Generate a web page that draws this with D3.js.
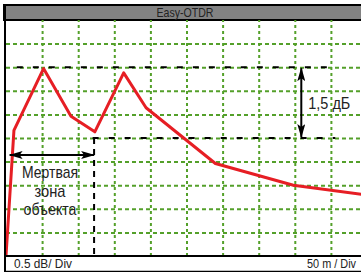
<!DOCTYPE html>
<html>
<head>
<meta charset="utf-8">
<script src="https://cdn.jsdelivr.net/npm/d3@7"></script>
<style>
body { margin: 0; background: #fff; }
svg { display: block; }
</style>
</head>
<body>
<div id="chart"></div>
<script>
// trace: distance (m) vs level (dB)
var distM = [0, 11, 52, 90, 123, 163, 194, 290, 398, 500];
var lossDb = [0, 2.66, 3.97, 2.96, 2.63, 3.88, 3.14, 1.96, 1.50, 1.29];

var xTicks = [50, 100, 150, 200, 250, 300, 350, 400, 450];
var yTicks = [0.5, 1, 1.5, 2, 2.5, 3, 3.5, 4, 4.5];

var titleText = "Easy-OTDR";
var yScaleText = "0.5 dB/ Div";
var xScaleText = "50 m / Div";
var deadZoneText = ["Мертвая", "зона", "объекта"];
var stepText = "1,5 дБ";

// annotation values
var levelHigh = 4, levelLow = 2.5;
var markStart = 15, markEnd = 456, lowStart = 120;
var deadStart = 5, deadEnd = 122, deadLevel = 2.14;
var stepAt = 409;

var width = 361, height = 272;
var green = "#54a02a", red = "#e61e24";
var font = "'Liberation Sans', Arial, sans-serif";

var svg = d3.select("#chart").append("svg")
	.attr("width", width)
	.attr("height", height);

var x = d3.scaleLinear().domain([0, 500]).range([6, 367]);
var y = d3.scaleLinear().domain([0, 5]).range([256, 20]);

// squeeze text to the narrow look of the original
function narrowText(sel, len) {
	sel.attr("textLength", len).attr("lengthAdjust", "spacingAndGlyphs");
}

// title bar
svg.append("rect")
	.attr("x", 4).attr("y", 5)
	.attr("width", width).attr("height", 15)
	.attr("fill", "#828282")
	.attr("stroke", "#000").attr("stroke-width", 2);
svg.append("text")
	.attr("x", 185).attr("y", 17)
	.attr("text-anchor", "middle")
	.attr("font-family", font)
	.attr("font-size", 13)
	.attr("fill", "#222")
	.text(titleText)
	.call(narrowText, 57);

// grid
var gx = svg.append("g")
	.attr("transform", "translate(0," + y(0) + ")")
	.call(d3.axisBottom(x).tickValues(xTicks).tickSize(-(y(0) - y(5))).tickFormat(""));
var gy = svg.append("g")
	.attr("transform", "translate(" + x(0) + ",0)")
	.call(d3.axisLeft(y).tickValues(yTicks).tickSize(-(x(500) - x(0))).tickFormat(""));
gx.select(".domain").remove();
gy.select(".domain").remove();
gx.selectAll(".tick line")
	.attr("stroke", green).attr("stroke-width", 2)
	.attr("stroke-dasharray", "3,3");
gy.selectAll(".tick line")
	.attr("stroke", green).attr("stroke-width", 2)
	.attr("stroke-dasharray", "4,3");

// black dashed markers
var dash = "6,10";
svg.append("line")
	.attr("x1", x(markStart)).attr("x2", x(markEnd))
	.attr("y1", y(levelHigh)).attr("y2", y(levelHigh))
	.attr("stroke", "#000").attr("stroke-width", 2)
	.attr("stroke-dasharray", dash);
svg.append("line")
	.attr("x1", x(lowStart)).attr("x2", x(markEnd))
	.attr("y1", y(levelLow)).attr("y2", y(levelLow))
	.attr("stroke", "#000").attr("stroke-width", 2)
	.attr("stroke-dasharray", dash);
svg.append("line")
	.attr("x1", x(deadEnd)).attr("x2", x(deadEnd))
	.attr("y1", y(levelLow)).attr("y2", y(0))
	.attr("stroke", "#000").attr("stroke-width", 2)
	.attr("stroke-dasharray", "6,5");

// trace
var line = d3.line()
	.x(function(d, i) { return x(distM[i]); })
	.y(function(d) { return y(d); });
svg.append("path")
	.attr("d", line(lossDb))
	.attr("fill", "none")
	.attr("stroke", red)
	.attr("stroke-width", 3)
	.attr("stroke-linejoin", "round");

// arrowheads
var defs = svg.append("defs");
defs.append("marker")
	.attr("id", "head")
	.attr("viewBox", "0 0 14 8")
	.attr("refX", 13).attr("refY", 4)
	.attr("markerWidth", 14).attr("markerHeight", 8)
	.attr("markerUnits", "userSpaceOnUse")
	.attr("orient", "auto-start-reverse")
	.append("path")
	.attr("d", "M0,0 L14,4 L0,8 L3,4 Z")
	.attr("fill", "#000");

svg.append("line")
	.attr("x1", x(deadStart)).attr("x2", x(deadEnd))
	.attr("y1", y(deadLevel)).attr("y2", y(deadLevel))
	.attr("stroke", "#000").attr("stroke-width", 2)
	.attr("marker-start", "url(#head)")
	.attr("marker-end", "url(#head)");

svg.append("line")
	.attr("x1", x(stepAt)).attr("x2", x(stepAt))
	.attr("y1", y(levelHigh) + 1).attr("y2", y(levelLow) - 1)
	.attr("stroke", "#000").attr("stroke-width", 2)
	.attr("marker-start", "url(#head)")
	.attr("marker-end", "url(#head)");

// labels
svg.append("text")
	.attr("x", x(stepAt) + 7).attr("y", y((levelHigh + levelLow) / 2) + 6)
	.attr("font-family", font)
	.attr("font-size", 17)
	.attr("fill", "#222")
	.text(stepText)
	.call(narrowText, 42);

var dzLen = [56, 31, 53];
svg.selectAll(".dz")
	.data(deadZoneText)
	.enter().append("text")
	.attr("class", "dz")
	.attr("font-family", font)
	.attr("font-size", 17)
	.attr("fill", "#222")
	.attr("text-anchor", "middle")
	.attr("x", x(61))
	.attr("y", function(d, i) { return 178 + i * 18.5; })
	.attr("textLength", function(d, i) { return dzLen[i]; })
	.attr("lengthAdjust", "spacingAndGlyphs")
	.text(function(d) { return d; });

// frame
svg.append("line")
	.attr("x1", 5).attr("x2", 5)
	.attr("y1", 4).attr("y2", height)
	.attr("stroke", "#000").attr("stroke-width", 2);
svg.append("line")
	.attr("x1", 4).attr("x2", width)
	.attr("y1", 256).attr("y2", 256)
	.attr("stroke", "#000").attr("stroke-width", 2);
svg.append("line")
	.attr("x1", 4).attr("x2", width)
	.attr("y1", 271.5).attr("y2", 271.5)
	.attr("stroke", "#000").attr("stroke-width", 1.5);

svg.append("text")
	.attr("x", 14).attr("y", 267.5)
	.attr("font-family", font)
	.attr("font-size", 12)
	.attr("fill", "#222")
	.text(yScaleText)
	.call(narrowText, 58);
svg.append("text")
	.attr("x", 356).attr("y", 267.5)
	.attr("text-anchor", "end")
	.attr("font-family", font)
	.attr("font-size", 12)
	.attr("fill", "#222")
	.text(xScaleText)
	.call(narrowText, 49);
</script>
</body>
</html>
